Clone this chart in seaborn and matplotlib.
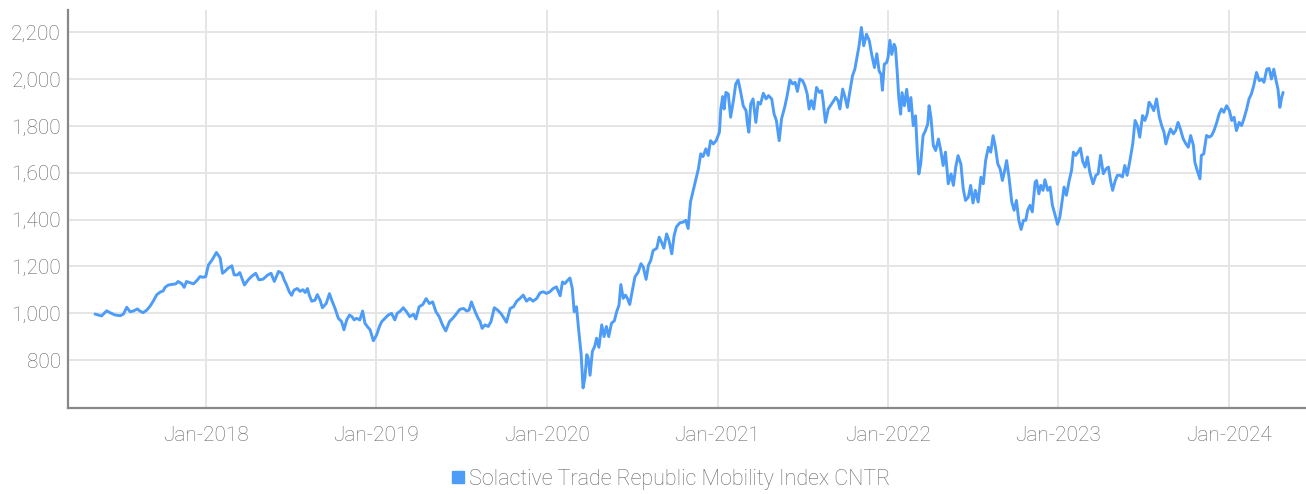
import matplotlib
matplotlib.use("Agg")
import matplotlib.pyplot as plt
import matplotlib.dates as mdates
import matplotlib.ticker as mticker
import seaborn as sns
import pandas as pd

# days since 2018-01-01
days = [
    -237, -230, -223, -212, -205, -194, -183, -176, -169, -162, -155, -146, -141, -134, -126, -119,
    -112, -105, -98, -91, -87, -80, -71, -64, -59, -51, -46, -41, -34, -26, -19, -12, -5, 0,
    6, 14, 23, 31, 36, 41, 48, 56, 61, 68, 73, 83, 91, 98, 107, 114, 123, 133, 140, 147, 156, 163, 168,
    172, 179, 184, 189, 196, 202, 208, 213, 218, 222, 227, 234, 239, 245, 250, 258, 265, 270, 277,
    284, 291, 296, 302, 308, 313, 318, 323, 330, 336, 341, 346, 352, 359, 366, 372, 377, 384, 391,
    398, 405, 410, 417, 423, 430, 437, 445, 450, 457, 465, 472, 479, 486, 493, 500, 507, 514, 522,
    529, 536, 544, 552, 559, 564, 569, 577, 584,
    587, 592, 598, 605, 611, 618, 625, 632, 639, 644, 652, 659, 666, 673, 680, 687, 694, 701, 709,
    716, 723, 730, 737, 744, 751, 759, 764, 769, 775, 780, 785, 789, 794, 799, 804, 808, 812, 816,
    819, 823, 828, 833, 837, 842, 848, 853, 858, 863, 869, 875, 880, 885, 889, 894, 899, 903, 908,
    913, 919, 926, 932, 937, 943, 948, 953, 958, 966, 971, 976, 981, 987, 992, 998, 1003,
    1008, 1015, 1023, 1028, 1033, 1038, 1044, 1050, 1055, 1060, 1065, 1071, 1076, 1081, 1087, 1093,
    1100, 1103, 1107, 1110, 1114, 1119, 1124, 1130, 1135, 1140, 1145, 1151, 1157, 1160, 1163, 1167,
    1172, 1178, 1183, 1188, 1194, 1200, 1205, 1212, 1217, 1222, 1228, 1233, 1240, 1245, 1251, 1257,
    1262, 1267, 1272, 1278, 1283, 1288, 1292, 1297, 1302, 1308, 1314, 1319, 1322, 1327, 1333, 1340,
    1345, 1349, 1354, 1358, 1364, 1369, 1374, 1379, 1385, 1390, 1395, 1399, 1404, 1409, 1415, 1421,
    1426, 1432, 1437, 1442, 1446, 1449, 1453, 1458, 1461, 1465, 1469, 1474, 1477, 1481, 1484, 1488,
    1491, 1496, 1501, 1506, 1510, 1515, 1520, 1524, 1527, 1531, 1536, 1541, 1546, 1549, 1553, 1558,
    1563, 1569, 1574, 1579, 1584, 1590, 1596, 1601, 1606, 1611, 1617, 1622, 1627, 1633, 1638, 1643,
    1648, 1654, 1660, 1665, 1670, 1676, 1681, 1686, 1691, 1696, 1701, 1706, 1710, 1715, 1720, 1726,
    1731, 1736, 1741, 1746, 1751, 1756, 1760, 1765, 1770, 1776, 1779, 1784, 1788, 1793, 1797, 1803,
    1808, 1813, 1818, 1824, 1829, 1834, 1838,
    1843, 1849, 1854, 1858, 1863, 1868, 1873, 1878, 1883, 1888, 1893, 1900, 1906, 1911, 1916, 1922,
    1928, 1933, 1938, 1942, 1947, 1952, 1958, 1963, 1968, 1973, 1979, 1985, 1990, 1995, 2000, 2006,
    2011, 2016, 2020, 2025, 2030, 2036, 2042, 2047, 2052, 2056, 2061, 2066, 2072, 2077, 2082, 2087,
    2093, 2099, 2104, 2109, 2115, 2118, 2123, 2129, 2132, 2137, 2143, 2149, 2154, 2159, 2165, 2170,
    2175, 2180, 2186, 2192, 2197, 2202, 2207, 2213, 2218, 2223, 2229, 2234, 2239, 2244, 2250, 2256,
    2261, 2266, 2272, 2277, 2282, 2287, 2292, 2296, 2300, 2304, 2307,
]

index_values = [
    997, 993, 989, 1011, 1003, 993, 990, 997, 1026, 1007, 1010, 1019, 1010, 1003, 1014, 1031,
    1053, 1079, 1090, 1096, 1111, 1121, 1124, 1126, 1136, 1126, 1111, 1136, 1131, 1126, 1140, 1157, 1154, 1157,
    1207, 1229, 1260, 1236, 1171, 1179, 1193, 1203, 1164, 1164, 1174, 1121, 1143, 1157, 1171, 1143, 1146, 1164, 1171, 1136, 1179, 1171, 1143,
    1127, 1092, 1077, 1099, 1106, 1094, 1101, 1089, 1106, 1077, 1052, 1056, 1080, 1056, 1024, 1042, 1084, 1056, 1021,
    979, 965, 930, 972, 993, 986, 972, 979, 972, 1010, 958, 944, 930, 883, 908, 944, 965, 979, 993,
    1000, 972, 1000, 1010, 1024, 1007, 986, 996, 976, 1028, 1038, 1063, 1042, 1049, 1007, 986, 951, 925, 965,
    979, 996, 1017, 1021, 1010, 1014, 1049, 1007, 976,
    968, 936, 951, 944, 965, 1024, 1014, 1000, 979, 962, 1021, 1028, 1052, 1064, 1078, 1052, 1064, 1052, 1064,
    1088, 1092, 1085, 1092, 1106, 1113, 1075, 1134, 1127, 1141, 1151, 1106, 1007, 1028, 922, 824, 682, 725, 824,
    809, 736, 838, 859, 894, 855, 951, 901, 944, 901, 958, 968, 1007, 1035, 1123, 1064, 1078, 1064, 1038,
    1092, 1155, 1176, 1212, 1198, 1145, 1205, 1226, 1268, 1278, 1325, 1304, 1278, 1339, 1311, 1254, 1332,
    1369, 1386, 1390, 1397, 1362, 1475, 1525, 1574, 1617, 1681, 1669, 1702, 1674, 1737, 1723, 1737,
    1773, 1872, 1925, 1872, 1943, 1936, 1837, 1908, 1979, 1996, 1950, 1886, 1865, 1808, 1773, 1893,
    1915, 1815, 1901, 1893, 1939, 1915, 1929, 1915, 1851, 1823, 1737, 1830, 1882, 1929, 1996, 1979,
    1986, 1947, 2000, 1993, 1971, 1936, 1872, 1908, 1872, 1964, 1943, 1950, 1908, 1815, 1872, 1893,
    1908, 1922, 1908, 1872, 1957, 1922, 1879, 1943, 2014, 2042, 2099, 2142, 2220, 2142, 2191, 2163,
    2105, 2049, 2108, 2034, 2020, 1952, 2063, 2070, 2091, 2165, 2105, 2148, 2133, 2020, 1921, 1850,
    1942, 1886, 1956, 1864, 1921, 1801, 1843, 1680, 1595, 1638, 1758, 1779, 1808, 1886, 1836, 1716,
    1695, 1744, 1695, 1631, 1688, 1553, 1595, 1546, 1624, 1673, 1638, 1532, 1482, 1496, 1546, 1471,
    1525, 1475, 1581, 1553, 1652, 1709, 1688, 1758, 1709, 1638, 1617, 1567, 1602, 1652, 1581, 1475,
    1440, 1482, 1397, 1358, 1397, 1397, 1440, 1461, 1433, 1560, 1567, 1510, 1546, 1525, 1570, 1525,
    1539, 1461, 1425, 1380, 1411, 1482, 1539,
    1504, 1567, 1610, 1688, 1674, 1688, 1705, 1648, 1624, 1667, 1603, 1553, 1589, 1596, 1674, 1596,
    1617, 1624, 1560, 1525, 1563, 1589, 1589, 1582, 1631, 1589, 1652, 1723, 1823, 1801, 1752, 1844,
    1823, 1851, 1901, 1886, 1865, 1915, 1837, 1801, 1773, 1723, 1759, 1787, 1766, 1780, 1815, 1787,
    1745, 1723, 1709, 1759, 1716, 1645, 1610, 1574, 1674, 1681, 1759, 1752, 1759, 1780, 1815, 1851,
    1872, 1858, 1886, 1865, 1823, 1837, 1780, 1815, 1801, 1830, 1872, 1915, 1936, 1971, 2028, 1993,
    2000, 1986, 2042, 2045, 2000, 2042, 1993, 1957, 1879, 1922, 1943,
]

series_name = "Solactive Trade Republic Mobility Index CNTR"
year_ticks = ["2018-01-01", "2019-01-01", "2020-01-01", "2021-01-01",
              "2022-01-01", "2023-01-01", "2024-01-01"]
y_ticks = [800, 1000, 1200, 1400, 1600, 1800, 2000, 2200]

df = pd.DataFrame({
    "date": pd.Timestamp("2018-01-01") + pd.to_timedelta(days, unit="D"),
    "value": index_values,
    "series": series_name,
})

sns.set_style("white")
plt.rcParams["font.family"] = ["Roboto", "DejaVu Sans"]
plt.rcParams["font.weight"] = "light"

fig = plt.figure(figsize=(13.06, 4.94), dpi=100)
ax = fig.add_axes([0.052, 0.174, 0.948, 0.806])

line_color = "#4d9cf7"
sns.lineplot(data=df, x="date", y="value", hue="series", palette=[line_color],
             linewidth=2.1, ax=ax, legend=False)

ax.set_xlim(pd.Timestamp("2017-03-12"), pd.Timestamp("2024-06-14"))
ax.set_ylim(596, 2295)
ax.set_xticks(pd.to_datetime(year_ticks))
ax.xaxis.set_major_formatter(mdates.DateFormatter("%b-%Y"))
ax.set_yticks(y_ticks)
ax.yaxis.set_major_formatter(mticker.StrMethodFormatter("{x:,.0f}"))

ax.grid(True, color="#e5e5e5", linewidth=1.4)
ax.set_axisbelow(True)
ax.tick_params(axis="both", length=0, labelsize=15, labelcolor="#666666")
ax.tick_params(axis="x", pad=13)
ax.tick_params(axis="y", pad=5)
ax.set_xlabel("")
ax.set_ylabel("")

for side in ["top", "right"]:
    ax.spines[side].set_visible(False)
for side in ["left", "bottom"]:
    ax.spines[side].set_color("#888888")
    ax.spines[side].set_linewidth(1.6)

handle = plt.Line2D([], [], marker="s", linestyle="none", markersize=8,
                    markerfacecolor=line_color, markeredgecolor=line_color)
fig.legend([handle], [series_name], loc="center", bbox_to_anchor=(0.512, 0.03),
           frameon=False, fontsize=15.5, handletextpad=0.0, handlelength=1.0,
           labelcolor="#666666")

fig.savefig("out.png", dpi=100)
